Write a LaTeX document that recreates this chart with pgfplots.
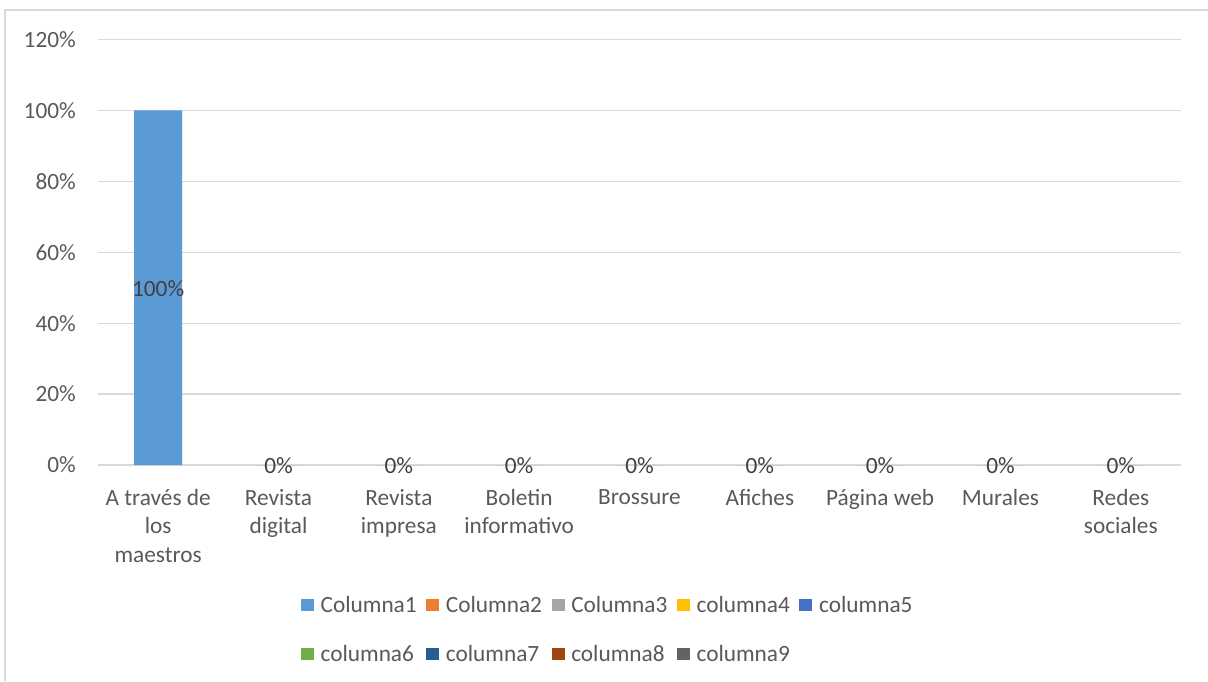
\documentclass[border=0pt]{standalone}
\usepackage{pgfplots}
\pgfplotsset{compat=1.18}
\usepackage{fontspec}
\setmainfont{Carlito}

\definecolor{c1}{HTML}{5B9BD5}
\definecolor{c2}{HTML}{ED7D31}
\definecolor{c3}{HTML}{A5A5A5}
\definecolor{c4}{HTML}{FFC000}
\definecolor{c5}{HTML}{4472C4}
\definecolor{c6}{HTML}{70AD47}
\definecolor{c7}{HTML}{255E91}
\definecolor{c8}{HTML}{9E480E}
\definecolor{c9}{HTML}{636363}
\definecolor{gridc}{HTML}{D9D9D9}
\definecolor{tickc}{HTML}{595959}
\definecolor{lblc}{HTML}{404040}

\pgfplotsset{
  sq legend/.style={legend image code/.code={\fill[##1, draw=none] (0pt,-5pt) rectangle (13pt,7pt); \path (16pt,0pt);}},
}

\begin{document}
\begin{tikzpicture}[font=\fontsize{23.3pt}{28.5pt}\selectfont]
\useasboundingbox (0pt,0pt) rectangle (1208pt,681pt);
\draw[gridc, line width=1.3pt] (5pt,0pt) -- (5pt,671pt) -- (1208pt,671pt);
\begin{axis}[
    at={(98pt,216pt)}, anchor=south west,
    scale only axis, width=1083pt, height=425.5pt,
    xmin=-0.5, xmax=8.5,
    ymin=0, ymax=120,
    ytick={0,20,...,120},
    yticklabel={\pgfmathprintnumber{\tick}\%},
    /pgf/number format/assume math mode=true,
    xtick={0,...,8},
    xticklabels={{A través de\\los\\maestros},{Revista\\digital},{Revista\\impresa},{Boletin\\informativo},{Brossure},{Afiches},{Página web},{Murales},{Redes\\sociales}},
    xticklabel style={align=center, anchor=north, inner ysep=0pt, yshift=-24pt, text=tickc},
    yticklabel style={anchor=east, inner xsep=0pt, xshift=-22pt, text=tickc},
    axis line style={draw=none},
    major tick length=0pt,
    ymajorgrids,
    grid style={gridc, line width=1.3pt},
    legend columns=5,
    legend cell align=left,
    legend style={draw=none, fill=none, inner sep=0pt,
        at={(rel axis cs:0.1872,-0.301)}, anchor=north west,
        nodes={text=tickc, text height=17pt, text depth=5pt, inner ysep=2pt, inner xsep=3.5pt},
        row sep=23pt,
        /tikz/every even column/.append style={column sep=6pt}},
]
\addplot[ybar, sq legend, fill=c1, draw=none, bar width=48pt,
    visualization depends on={rawy \as \rawy},
    nodes near coords={\pgfmathprintnumber{\pgfplotspointmeta}\%},
    every node near coord/.append style={anchor=center, text=lblc, yshift=-1pt,
        shift={(axis direction cs:0,-\rawy/2)}},
] coordinates {(0,100) (1,0) (2,0) (3,0) (4,0) (5,0) (6,0) (7,0) (8,0)};
\addlegendentry{Columna1}
\addlegendimage{sq legend, fill=c2}\addlegendentry{Columna2}
\addlegendimage{sq legend, fill=c3}\addlegendentry{Columna3}
\addlegendimage{sq legend, fill=c4}\addlegendentry{columna4}
\addlegendimage{sq legend, fill=c5}\addlegendentry{columna5}
\addlegendimage{sq legend, fill=c6}\addlegendentry{columna6}
\addlegendimage{sq legend, fill=c7}\addlegendentry{columna7}
\addlegendimage{sq legend, fill=c8}\addlegendentry{columna8}
\addlegendimage{sq legend, fill=c9}\addlegendentry{columna9}
\end{axis}
\end{tikzpicture}
\end{document}
